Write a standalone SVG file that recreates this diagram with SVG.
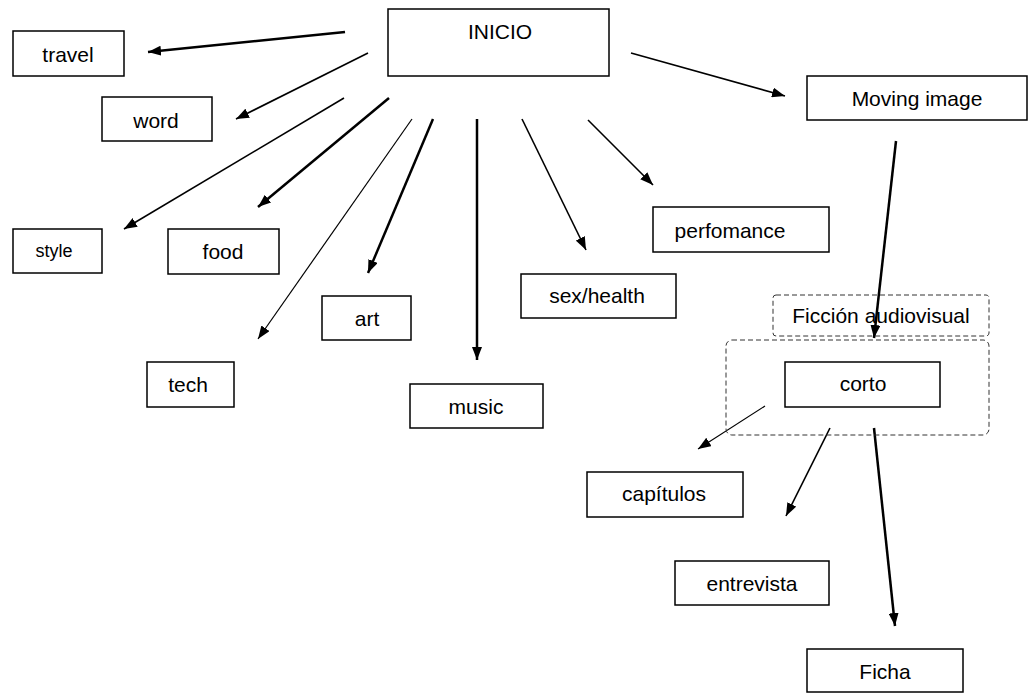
<svg xmlns="http://www.w3.org/2000/svg" width="1028" height="693" viewBox="0 0 1028 693">
  <style>
    .box { fill: #ffffff; stroke: #000000; stroke-width: 1.5; }
    .dash { fill: none; stroke: #333333; stroke-width: 1; stroke-dasharray: 5 3; }
    .lbl { font-family: "Liberation Sans", Arial, sans-serif; font-size: 21px; fill: #000000; text-anchor: middle; }
    .small { font-size: 18px; }
    .link { stroke: #000000; stroke-width: 1.6; fill: none; marker-end: url(#arrow); }
    .thick { stroke-width: 2.5; }
    .thin { stroke-width: 1.2; }
  </style>
  <defs>
    <marker id="arrow" markerUnits="userSpaceOnUse" markerWidth="13" markerHeight="10" refX="13" refY="5" orient="auto">
      <path d="M0,0 L13,5 L0,10 z" fill="#000000"/>
    </marker>
  </defs>
  <rect width="1028" height="693" fill="#ffffff"/>

  <g id="connectors">
    <line class="link thick" x1="345" y1="32" x2="148" y2="52"/>
    <line class="link" x1="368" y1="53" x2="236" y2="119"/>
    <line class="link" x1="344" y1="98" x2="124" y2="229"/>
    <line class="link thick" x1="389" y1="98" x2="258" y2="207"/>
    <line class="link thin" x1="412" y1="119" x2="258" y2="339"/>
    <line class="link thick" x1="433" y1="119" x2="368" y2="273"/>
    <line class="link thick" x1="477" y1="119" x2="477" y2="360"/>
    <line class="link" x1="522" y1="119" x2="586" y2="250"/>
    <line class="link" x1="588" y1="120" x2="653" y2="185"/>
    <line class="link" x1="631" y1="53" x2="785" y2="96"/>
    <line class="link thick" x1="896" y1="141" x2="874" y2="338"/>
    <line class="link thin" x1="765" y1="406" x2="698" y2="449"/>
    <line class="link" x1="830" y1="428" x2="786" y2="516"/>
    <line class="link thick" x1="874" y1="428" x2="895" y2="626"/>
  </g>

  <g id="inicio">
    <rect class="box" x="388" y="9" width="221" height="67"/>
    <text class="lbl" x="500" y="39">INICIO</text>
  </g>
  <g id="travel">
    <rect class="box" x="13" y="31" width="111" height="45"/>
    <text class="lbl" x="68" y="62">travel</text>
  </g>
  <g id="word">
    <rect class="box" x="102" y="97" width="110" height="44"/>
    <text class="lbl" x="156" y="128">word</text>
  </g>
  <g id="style">
    <rect class="box" x="13" y="229" width="89" height="44"/>
    <text class="lbl small" x="54" y="257">style</text>
  </g>
  <g id="food">
    <rect class="box" x="168" y="229" width="111" height="45"/>
    <text class="lbl" x="223" y="259">food</text>
  </g>
  <g id="art">
    <rect class="box" x="322" y="296" width="89" height="44"/>
    <text class="lbl" x="367" y="326">art</text>
  </g>
  <g id="tech">
    <rect class="box" x="147" y="362" width="87" height="45"/>
    <text class="lbl" x="188" y="392">tech</text>
  </g>
  <g id="music">
    <rect class="box" x="410" y="384" width="133" height="44"/>
    <text class="lbl" x="476" y="414">music</text>
  </g>
  <g id="sex-health">
    <rect class="box" x="521" y="274" width="155" height="44"/>
    <text class="lbl" x="597" y="303">sex/health</text>
  </g>
  <g id="perfomance">
    <rect class="box" x="653" y="207" width="176" height="45"/>
    <text class="lbl" x="730" y="238">perfomance</text>
  </g>
  <g id="moving-image">
    <rect class="box" x="807" y="76" width="220" height="44"/>
    <text class="lbl" x="917" y="106">Moving image</text>
  </g>
  <g id="ficcion-audiovisual">
    <rect class="dash" x="773" y="295" width="216" height="41" rx="3"/>
    <text class="lbl" x="881" y="323">Ficción audiovisual</text>
  </g>
  <g id="corto-group">
    <rect class="dash" x="726" y="340" width="263" height="95" rx="6"/>
  </g>
  <g id="corto">
    <rect class="box" x="785" y="362" width="155" height="45"/>
    <text class="lbl" x="863" y="391">corto</text>
  </g>
  <g id="capitulos">
    <rect class="box" x="587" y="472" width="156" height="45"/>
    <text class="lbl" x="664" y="501">capítulos</text>
  </g>
  <g id="entrevista">
    <rect class="box" x="675" y="561" width="154" height="44"/>
    <text class="lbl" x="752" y="591">entrevista</text>
  </g>
  <g id="ficha">
    <rect class="box" x="807" y="649" width="156" height="43"/>
    <text class="lbl" x="885" y="679">Ficha</text>
  </g>
</svg>
